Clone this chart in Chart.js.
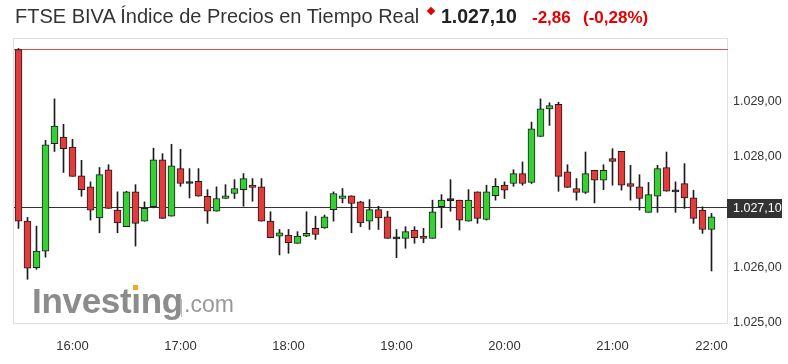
<!DOCTYPE html>
<html><head><meta charset="utf-8">
<script src="https://cdn.jsdelivr.net/npm/chart.js@4.4.0/dist/chart.umd.min.js"></script>
<style>
html,body{margin:0;padding:0;background:#fff;}
#wrap{position:relative;width:788px;height:364px;overflow:hidden;font-family:"Liberation Sans",Arial,sans-serif;}
canvas{position:absolute;left:0;top:0;}
.t{position:absolute;white-space:nowrap;line-height:1;}
</style></head><body>
<div id="wrap">
<canvas id="c" width="788" height="364"></canvas>
<div class="t" style="left:15px;top:6.4px;font-size:20px;color:#333;">FTSE BIVA Índice de Precios en Tiempo Real</div>
<div style="position:absolute;left:428px;top:8px;width:6px;height:6px;background:#e60000;transform:rotate(45deg);"></div>
<div class="t" style="left:441px;top:6.8px;font-size:19.5px;font-weight:bold;color:#222;">1.027,10</div>
<div class="t" style="left:532px;top:8.6px;font-size:17px;font-weight:bold;color:#e60000;">-2,86</div>
<div class="t" style="left:583px;top:8.6px;font-size:17px;font-weight:bold;color:#e60000;">(-0,28%)</div>
<div class="t" style="left:32px;top:283.4px;font-size:35px;font-weight:bold;color:#8c8c8c;letter-spacing:-0.3px;">Investıng</div>
<div style="position:absolute;left:133px;top:285px;width:5px;height:5px;background:#f5a623;"></div>
<div style="position:absolute;left:181px;top:299px;width:1px;height:18px;background:#bbb;"></div>
<div class="t" style="left:184px;top:292.5px;font-size:23px;color:#999;">.com</div>
</div>
<script>
const times = ["15:30","15:35","15:40","15:45","15:50","15:55","16:00","16:05","16:10","16:15","16:20","16:25",
"16:30","16:35","16:40","16:45","16:50","16:55","17:00","17:05","17:10","17:15","17:20","17:25",
"17:30","17:35","17:40","17:45","17:50","17:55","18:00","18:05","18:10","18:15","18:20","18:25",
"18:30","18:35","18:40","18:45","18:50","18:55","19:00","19:05","19:10","19:15","19:20","19:25",
"19:30","19:35","19:40","19:45","19:50","19:55","20:00","20:05","20:10","20:15","20:20","20:25",
"20:30","20:35","20:40","20:45","20:50","20:55","21:00","21:05","21:15","21:20","21:25","21:30",
"21:35","21:40","21:45","21:50","21:55","22:00"];
const opens = [1029.94,1026.84,1026.00,1026.30,1028.24,1028.36,1028.18,1027.66,1027.46,1026.90,1027.77,1027.04,
1026.74,1027.37,1026.84,1027.10,1027.95,1026.93,1027.79,1027.53,1027.56,1027.29,1027.02,1027.25,
1027.34,1027.41,1027.49,1027.46,1026.84,1026.57,1026.59,1026.44,1026.57,1026.71,1026.72,1027.05,
1027.25,1027.30,1027.19,1026.84,1027.05,1026.92,1026.53,1026.53,1026.68,1026.57,1026.53,1027.10,
1027.22,1027.22,1026.84,1027.37,1026.87,1027.30,1027.49,1027.52,1027.70,1027.54,1028.37,1028.87,
1028.95,1027.73,1027.43,1027.36,1027.76,1027.58,1027.97,1028.10,1027.52,1027.46,1027.00,1027.29,
1027.81,1027.38,1027.52,1027.26,1027.04,1026.69];
const highs = [1029.96,1026.91,1026.75,1028.30,1029.05,1028.59,1028.32,1027.94,1027.55,1027.81,1027.86,1027.37,
1027.38,1027.50,1027.19,1028.16,1028.06,1028.23,1028.14,1027.79,1027.79,1027.41,1027.46,1027.50,
1027.59,1027.70,1027.61,1027.61,1027.01,1026.69,1026.69,1026.65,1027.01,1026.93,1026.95,1027.37,
1027.43,1027.30,1027.20,1027.23,1027.11,1027.02,1026.69,1026.74,1026.74,1026.71,1027.22,1027.32,
1027.59,1027.22,1027.41,1027.37,1027.49,1027.61,1027.55,1027.77,1027.91,1028.63,1029.05,1028.98,
1028.99,1027.86,1027.61,1028.09,1027.76,1027.86,1028.15,1028.10,1027.85,1027.68,1027.54,1027.85,
1028.09,1027.55,1027.88,1027.40,1027.10,1026.98];
const lows = [1026.71,1025.79,1025.97,1026.19,1028.10,1027.72,1027.65,1027.29,1026.86,1026.63,1027.07,1026.63,
1026.74,1026.39,1026.84,1027.08,1026.89,1026.93,1027.47,1027.26,1027.29,1026.80,1027.02,1027.25,
1027.25,1027.11,1027.20,1026.84,1026.54,1026.23,1026.26,1026.44,1026.56,1026.51,1026.71,1026.84,
1027.17,1026.63,1026.74,1026.69,1026.69,1026.53,1026.18,1026.35,1026.44,1026.45,1026.53,1026.72,
1027.02,1026.68,1026.84,1026.80,1026.86,1027.22,1027.25,1027.47,1027.49,1027.52,1028.37,1028.57,
1027.38,1027.45,1027.22,1027.34,1027.17,1027.41,1027.49,1027.40,1027.22,1027.04,1027.00,1027.00,
1027.38,1027.00,1027.07,1026.80,1026.62,1025.94];
const closes = [1026.84,1025.99,1026.30,1028.22,1028.56,1028.15,1027.65,1027.41,1027.04,1027.68,1027.07,1026.81,
1027.37,1026.80,1027.07,1027.95,1026.89,1027.84,1027.52,1027.52,1027.29,1027.02,1027.25,1027.30,
1027.43,1027.61,1027.45,1026.84,1026.54,1026.63,1026.45,1026.57,1026.62,1026.60,1026.92,1027.34,
1027.30,1027.16,1026.81,1027.05,1026.90,1026.53,1026.52,1026.65,1026.54,1026.53,1027.01,1027.22,
1027.21,1026.86,1027.22,1026.89,1027.37,1027.47,1027.40,1027.70,1027.52,1028.51,1028.87,1028.93,
1027.65,1027.45,1027.36,1027.70,1027.58,1027.76,1027.92,1027.49,1027.47,1027.25,1027.32,1027.79,
1027.38,1027.37,1027.26,1026.89,1026.69,1026.92];
const prevClose = 1029.96;
const lastPrice = 1027.10;
const yTicks = [1025, 1026, 1028, 1029];

function fmt(v){
  const s = v.toFixed(2).split('.');
  return s[0].replace(/\B(?=(\d{3})+(?!\d))/g, '.') + ',' + s[1];
}
const UP = '#36cf36', DOWN = '#e23b3b', EDGE = '#1c1c1c';
const bodyColors = opens.map((o, i) => Math.abs(closes[i] - o) < 0.015 ? EDGE : (closes[i] > o ? UP : DOWN));
const hourIdx = times.map((t, i) => t.endsWith(':00') ? i : -1).filter(i => i >= 0);

const overlay = {
  id: 'overlay',
  beforeDatasetsDraw(chart) {
    const {ctx, chartArea: a, scales: {y}} = chart;
    ctx.save();
    ctx.strokeStyle = '#dedede'; ctx.lineWidth = 1;
    ctx.strokeRect(a.left - 0.5, a.top + 0.5, a.right - a.left, a.bottom - a.top);
    let yp = Math.round(y.getPixelForValue(prevClose)) + 0.5;
    ctx.strokeStyle = '#d9534f';
    ctx.beginPath(); ctx.moveTo(a.left, yp); ctx.lineTo(a.right, yp); ctx.stroke();
    let yl = Math.round(y.getPixelForValue(lastPrice)) + 0.5;
    ctx.strokeStyle = '#333';
    ctx.beginPath(); ctx.moveTo(a.left, yl); ctx.lineTo(a.right, yl); ctx.stroke();
    ctx.restore();
  },
  afterDraw(chart) {
    const {ctx, chartArea: a, scales: {y}} = chart;
    const yl = Math.round(y.getPixelForValue(lastPrice));
    ctx.save();
    ctx.fillStyle = '#333';
    ctx.fillRect(a.right - 1, yl - 8, 55, 19);
    ctx.fillStyle = '#fff';
    ctx.font = '12.5px "Liberation Sans", Arial, sans-serif';
    ctx.textBaseline = 'middle'; ctx.textAlign = 'left';
    ctx.fillText(fmt(lastPrice), a.right + 5, yl + 1.5);
    ctx.restore();
  }
};

new Chart(document.getElementById('c'), {
  type: 'bar',
  data: {
    datasets: [
      { label: 'body', data: opens.map((o, i) => ({x: i, y: [o, closes[i]]})),
        backgroundColor: bodyColors, borderColor: EDGE, borderWidth: 1, borderSkipped: false,
        barThickness: 7, grouped: false, minBarLength: 2, order: 0 },
      { label: 'wick', data: lows.map((l, i) => ({x: i, y: [l, highs[i]]})),
        backgroundColor: EDGE, borderWidth: 0, barThickness: 1, grouped: false, order: 1 }
    ]
  },
  options: {
    responsive: false, animation: false,
    layout: { padding: { top: 38, left: 14, right: 0, bottom: 0 } },
    plugins: { legend: { display: false }, tooltip: { enabled: false } },
    scales: {
      x: {
        type: 'linear', min: -0.5, max: 78.8333, offset: false,
        grid: { display: false, drawTicks: false }, border: { display: false },
        afterBuildTicks: s => { s.ticks = hourIdx.map(v => ({value: v})); },
        afterFit: s => { s.height = 41; },
        ticks: { autoSkip: false, maxRotation: 0, padding: 16, color: '#333',
          font: { family: '"Liberation Sans", Arial, sans-serif', size: 13 },
          callback: v => times[v] }
      },
      y: {
        position: 'right', min: 1025, max: 1030.15,
        grid: { display: false, drawTicks: false }, border: { display: false },
        afterBuildTicks: s => { s.ticks = yTicks.map(v => ({value: v})); },
        afterFit: s => { s.width = 60; },
        ticks: { padding: 5, color: '#333',
          font: { family: '"Liberation Sans", Arial, sans-serif', size: 12.5 },
          callback: v => fmt(v) }
      }
    }
  },
  plugins: [overlay]
});
</script>
</body></html>
